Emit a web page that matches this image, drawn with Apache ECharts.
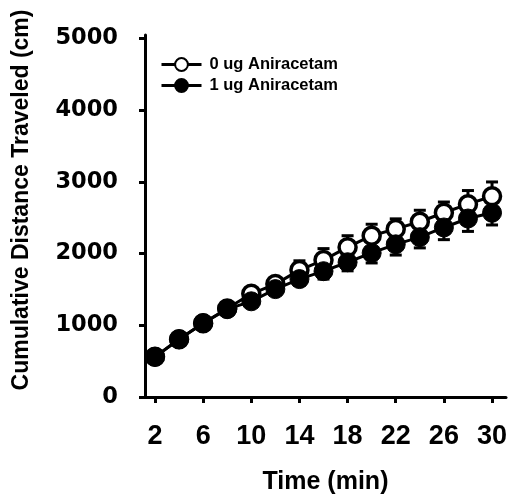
<!DOCTYPE html>
<html>
<head>
<meta charset="utf-8">
<script src="https://cdn.jsdelivr.net/npm/echarts@6/dist/echarts.min.js"></script>
<style>
html,body{margin:0;padding:0;background:#fff;}
#chart{width:512px;height:503px;}
</style>
</head>
<body>
<div id="chart"></div>
<script>
var times = [2, 4, 6, 8, 10, 12, 14, 16, 18, 20, 22, 24, 26, 28, 30];
var dose0 = [560, 805, 1030, 1235, 1440, 1575, 1770, 1910, 2090, 2250, 2345, 2445, 2570, 2690, 2800];
var dose0Err = [30, 30, 40, 50, 60, 80, 130, 160, 160, 160, 140, 160, 150, 190, 200];
var dose1 = [560, 805, 1030, 1225, 1335, 1505, 1645, 1755, 1880, 2010, 2130, 2230, 2365, 2490, 2570];
var dose1Err = [30, 30, 40, 50, 60, 70, 90, 110, 120, 140, 150, 150, 170, 180, 170];
var xTicks = [2, 6, 10, 14, 18, 22, 26, 30];
var yTicks = [0, 1000, 2000, 3000, 4000, 5000];
var seriesNames = ['0 ug Aniracetam', '1 ug Aniracetam'];

function pairs(vals) { return times.map(function (t, i) { return [t, vals[i]]; }); }
function errData(vals, errs, dir) {
  return times.map(function (t, i) { return [t, vals[i], vals[i] + dir * errs[i]]; });
}
function errRender(params, api) {
  var p0 = api.coord([api.value(0), api.value(1)]);
  var p1 = api.coord([api.value(0), api.value(2)]);
  var hw = 6;
  var st = { stroke: '#000', lineWidth: 3 };
  return {
    type: 'group',
    children: [
      { type: 'line', shape: { x1: p0[0], y1: p0[1], x2: p1[0], y2: p1[1] }, style: st },
      { type: 'line', shape: { x1: p1[0] - hw, y1: p1[1], x2: p1[0] + hw, y2: p1[1] }, style: st }
    ]
  };
}

var chart = echarts.init(document.getElementById('chart'), null, { renderer: 'canvas' });
chart.setOption({
  backgroundColor: '#fff',
  animation: false,
  grid: { left: 145, right: 6, top: 35, bottom: 106, containLabel: false },
  legend: {
    left: 155, top: 51, orient: 'vertical',
    itemWidth: 40, itemHeight: 16, itemGap: 4,
    data: seriesNames,
    lineStyle: { width: 3, color: '#000' },
    textStyle: { fontFamily: 'Liberation Sans', fontWeight: 'bold', fontSize: 16.5, color: '#000', padding: [0, 0, 0, 3] }
  },
  xAxis: {
    type: 'value', min: 1.17, max: 31.16,
    name: 'Time (min)', nameLocation: 'middle', nameGap: 73,
    nameTextStyle: { fontFamily: 'Liberation Sans', fontWeight: 'bold', fontSize: 25, color: '#000' },
    axisLine: { show: true, lineStyle: { color: '#000', width: 3 } },
    axisTick: { show: true, length: 6, lineStyle: { color: '#000', width: 3 }, customValues: xTicks },
    axisLabel: { margin: 26, fontFamily: 'Liberation Sans', fontWeight: 'bold', fontSize: 27, color: '#000', customValues: xTicks },
    splitLine: { show: false }
  },
  yAxis: {
    type: 'value', min: 0, max: 5050,
    axisLine: { show: true, lineStyle: { color: '#000', width: 3 } },
    axisTick: { show: true, length: 6, lineStyle: { color: '#000', width: 3 }, customValues: yTicks },
    axisLabel: { margin: 27, fontFamily: 'DejaVu Sans', fontWeight: 'bold', fontSize: 22.5, color: '#000', customValues: yTicks,
      formatter: function (v) { return String(v); } },
    splitLine: { show: false }
  },
  graphic: [{
    type: 'text', x: 22, y: 200, rotation: Math.PI / 2,
    style: { text: 'Cumulative Distance Traveled (cm)', font: 'bold 23px "Liberation Sans"', fill: '#000', align: 'center', verticalAlign: 'middle' }
  }],
  series: [
    { type: 'custom', name: 'err0', z: 1, renderItem: errRender, data: errData(dose0, dose0Err, 1), silent: true },
    { type: 'custom', name: 'err1', z: 1, renderItem: errRender, data: errData(dose1, dose1Err, -1), silent: true },
    {
      type: 'line', name: seriesNames[0], z: 2, data: pairs(dose0),
      symbol: 'circle', symbolSize: 17, showAllSymbol: true,
      lineStyle: { color: '#000', width: 3 },
      itemStyle: { color: '#fff', borderColor: '#000', borderWidth: 3.5 }
    },
    {
      type: 'line', name: seriesNames[1], z: 3, data: pairs(dose1),
      symbol: 'circle', symbolSize: 19, showAllSymbol: true,
      lineStyle: { color: '#000', width: 3 },
      itemStyle: { color: '#000', borderColor: '#000', borderWidth: 1 }
    }
  ]
});
</script>
</body>
</html>
